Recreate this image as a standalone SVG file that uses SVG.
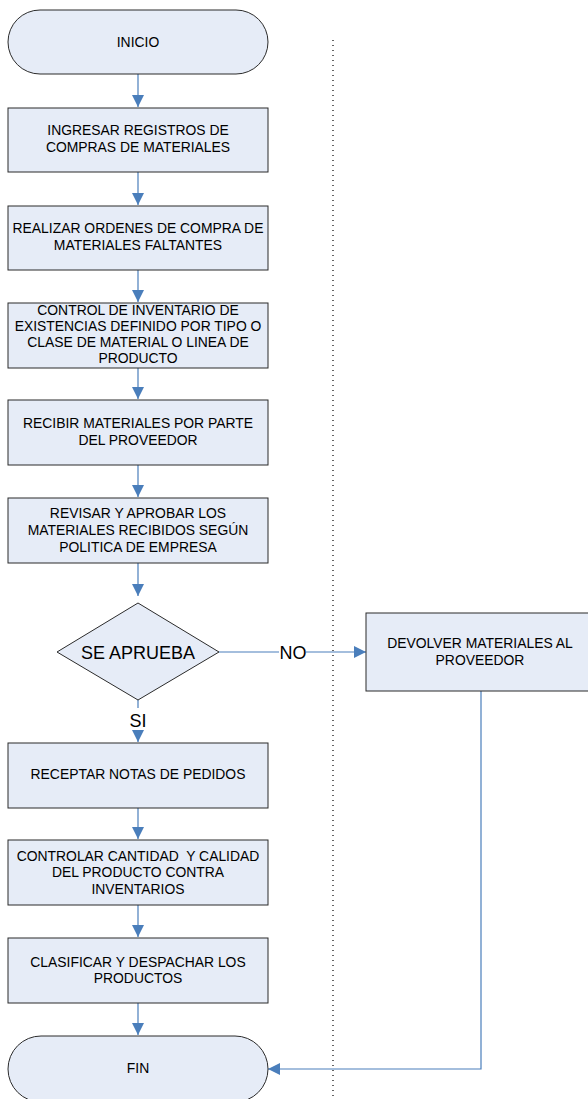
<svg xmlns="http://www.w3.org/2000/svg" width="588" height="1099" viewBox="0 0 588 1099">
  <style>
    .shape { fill: #e6ecf7; stroke: #2b2b2b; stroke-width: 1; }
    .conn { fill: none; stroke: #4a7ebb; stroke-width: 1.2; }
    .lbl { font-family: "Liberation Sans", Arial, sans-serif; font-size: 13.9px; fill: #000; text-anchor: middle; white-space: pre; }
    .big { font-family: "Liberation Sans", Arial, sans-serif; font-size: 18px; fill: #000; text-anchor: middle; }
    .sep { stroke: #000; stroke-width: 1.2; stroke-dasharray: 1 4; }
  </style>
  <defs>
    <marker id="arrow" viewBox="0 0 12 12" refX="12" refY="6" markerWidth="12" markerHeight="12" markerUnits="userSpaceOnUse" orient="auto">
      <path d="M0,0 L12,6 L0,12 Z" fill="#4a7ebb"/>
    </marker>
  </defs>

  <rect width="588" height="1099" fill="#ffffff"/>

  <!-- lane separator -->
  <line class="sep" x1="333" y1="40" x2="333" y2="1099"/>

  <!-- connectors -->
  <g id="connectors">
    <line class="conn" x1="138" y1="74" x2="138" y2="107" marker-end="url(#arrow)"/>
    <line class="conn" x1="138" y1="172" x2="138" y2="205" marker-end="url(#arrow)"/>
    <line class="conn" x1="138" y1="270" x2="138" y2="302" marker-end="url(#arrow)"/>
    <line class="conn" x1="138" y1="368" x2="138" y2="399" marker-end="url(#arrow)"/>
    <line class="conn" x1="138" y1="465" x2="138" y2="497" marker-end="url(#arrow)"/>
    <line class="conn" x1="138" y1="563" x2="138" y2="596" marker-end="url(#arrow)"/>
    <line class="conn" x1="138" y1="700" x2="138" y2="708"/>
    <line class="conn" x1="138" y1="733" x2="138" y2="742" marker-end="url(#arrow)"/>
    <line class="conn" x1="219" y1="652" x2="279" y2="652"/>
    <line class="conn" x1="306" y1="652" x2="366" y2="652" marker-end="url(#arrow)"/>
    <line class="conn" x1="138" y1="808" x2="138" y2="839" marker-end="url(#arrow)"/>
    <line class="conn" x1="138" y1="905" x2="138" y2="937" marker-end="url(#arrow)"/>
    <line class="conn" x1="138" y1="1003" x2="138" y2="1035" marker-end="url(#arrow)"/>
    <polyline class="conn" points="481,691 481,1069 268,1069" marker-end="url(#arrow)"/>
    <text class="big" x="293" y="659" font-size="17">NO</text>
    <text class="big" x="138" y="727" font-size="17">SI</text>
  </g>

  <g id="inicio">
    <rect class="shape" x="8" y="10" width="260" height="64" rx="32" ry="32"/>
    <text class="lbl" x="138" y="47">INICIO</text>
  </g>

  <g id="ingresar">
    <rect class="shape" x="8" y="108" width="260" height="64"/>
    <text class="lbl" x="138" y="135">INGRESAR REGISTROS DE</text>
    <text class="lbl" x="138" y="152">COMPRAS DE MATERIALES</text>
  </g>

  <g id="ordenes">
    <rect class="shape" x="8" y="206" width="260" height="64"/>
    <text class="lbl" x="138" y="233">REALIZAR ORDENES DE COMPRA DE</text>
    <text class="lbl" x="138" y="250">MATERIALES FALTANTES</text>
  </g>

  <g id="control">
    <rect class="shape" x="8" y="303" width="260" height="65"/>
    <text class="lbl" x="138" y="315">CONTROL DE INVENTARIO DE</text>
    <text class="lbl" x="138" y="331">EXISTENCIAS DEFINIDO POR TIPO O</text>
    <text class="lbl" x="138" y="347">CLASE DE MATERIAL O LINEA DE</text>
    <text class="lbl" x="138" y="363">PRODUCTO</text>
  </g>

  <g id="recibir">
    <rect class="shape" x="8" y="400" width="260" height="65"/>
    <text class="lbl" x="138" y="428">RECIBIR MATERIALES POR PARTE</text>
    <text class="lbl" x="138" y="445">DEL PROVEEDOR</text>
  </g>

  <g id="revisar">
    <rect class="shape" x="8" y="498" width="260" height="65"/>
    <text class="lbl" x="138" y="518">REVISAR Y APROBAR LOS</text>
    <text class="lbl" x="138" y="535">MATERIALES RECIBIDOS SEGÚN</text>
    <text class="lbl" x="138" y="552">POLITICA DE EMPRESA</text>
  </g>

  <g id="aprueba">
    <polygon class="shape" points="138,603 219,652 138,700 57,652"/>
    <text class="big" x="138" y="659">SE APRUEBA</text>
  </g>

  <g id="devolver">
    <rect class="shape" x="366" y="613" width="230" height="78"/>
    <text class="lbl" x="480" y="648">DEVOLVER MATERIALES AL</text>
    <text class="lbl" x="480" y="665">PROVEEDOR</text>
  </g>

  <g id="receptar">
    <rect class="shape" x="8" y="743" width="260" height="65"/>
    <text class="lbl" x="138" y="779">RECEPTAR NOTAS DE PEDIDOS</text>
  </g>

  <g id="controlar">
    <rect class="shape" x="8" y="840" width="260" height="65"/>
    <text class="lbl" x="138" y="861" xml:space="preserve">CONTROLAR CANTIDAD  Y CALIDAD</text>
    <text class="lbl" x="138" y="877">DEL PRODUCTO CONTRA</text>
    <text class="lbl" x="138" y="894">INVENTARIOS</text>
  </g>

  <g id="clasificar">
    <rect class="shape" x="8" y="938" width="260" height="65"/>
    <text class="lbl" x="138" y="967">CLASIFICAR Y DESPACHAR LOS</text>
    <text class="lbl" x="138" y="983">PRODUCTOS</text>
  </g>

  <g id="fin">
    <rect class="shape" x="8" y="1036" width="260" height="66" rx="33" ry="33"/>
    <text class="lbl" x="138" y="1073">FIN</text>
  </g>
</svg>
